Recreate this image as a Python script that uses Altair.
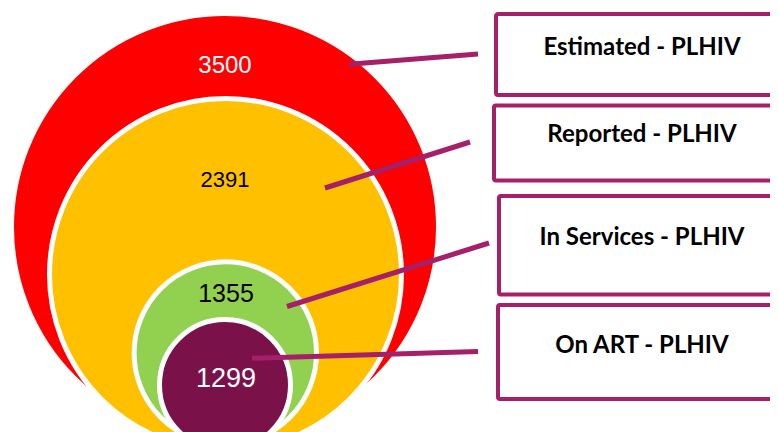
import altair as alt
import pandas as pd

# ---- data ----
stages = ["Estimated - PLHIV", "Reported - PLHIV", "In Services - PLHIV", "On ART - PLHIV"]
values = [3500, 2391, 1355, 1299]
fills = ["#FF0000", "#FFC000", "#92D050", "#7A1148"]
label_colors = ["#FFFFFF", "#000000", "#000000", "#FFFFFF"]

# ---- layout (screen pixel units) ----
circle_cx = [225, 225.5, 225.3, 225]
circle_cy = [227, 274.5, 353, 385]
circle_r = [213.5, 176, 91.2, 65.5]
label_x = [225, 225, 226, 226]
label_y = [66, 180, 294, 379]
label_size = [24, 22, 25, 27]
box_left = [496, 494, 499, 498]
box_top = [14, 105.5, 196, 305]
box_bottom = [95, 180.5, 294.5, 399]
box_text_x = [642, 642, 642, 642]
box_text_y = [48, 135, 238, 345.5]
lead_x1 = [349, 325, 287, 252]
lead_y1 = [64.3, 188, 306.5, 358.3]
lead_x2 = [478, 470, 489, 478]
lead_y2 = [54, 142, 243, 351.5]

ACCENT = "#A61F69"
W, H = 762, 424

df = pd.DataFrame({
    "stage": stages,
    "value": values,
    "fill": fills,
    "lcolor": label_colors,
    "cx": circle_cx,
    "cy": circle_cy,
    # Vega symbol size is the area of the bounding square: (2r)^2
    "area": [4 * r * r for r in circle_r],
    "lx": label_x,
    "ly": label_y,
    "lsize": label_size,
    "bx": box_left,
    "bx2": [800] * 4,
    "by": box_top,
    "by2": box_bottom,
    "tx": box_text_x,
    "ty": box_text_y,
    "x1": lead_x1,
    "y1": lead_y1,
    "x2": lead_x2,
    "y2": lead_y2,
    "ord": [0, 1, 2, 3],
})

xs = alt.Scale(domain=[8, 8 + W], nice=False, zero=False)
ys = alt.Scale(domain=[8, 8 + H], nice=False, zero=False, reverse=True)

base = alt.Chart(df)

circles = base.mark_circle(opacity=1, stroke="white", strokeWidth=5, clip=True).encode(
    x=alt.X("cx:Q", scale=xs, axis=None),
    y=alt.Y("cy:Q", scale=ys, axis=None),
    size=alt.Size("area:Q", scale=None, legend=None),
    color=alt.Color("fill:N", scale=None, legend=None),
    order=alt.Order("ord:Q"),
)

labels = base.mark_text(font="Liberation Sans", baseline="middle", align="center").encode(
    x=alt.X("lx:Q", scale=xs, axis=None),
    y=alt.Y("ly:Q", scale=ys, axis=None),
    text=alt.Text("value:Q", format="d"),
    color=alt.Color("lcolor:N", scale=None, legend=None),
    size=alt.Size("lsize:Q", scale=None, legend=None),
)

leaders = base.mark_rule(color=ACCENT, strokeWidth=5).encode(
    x=alt.X("x1:Q", scale=xs, axis=None),
    y=alt.Y("y1:Q", scale=ys, axis=None),
    x2="x2:Q",
    y2="y2:Q",
)

boxes = base.mark_rect(fill="white", stroke=ACCENT, strokeWidth=4, cornerRadius=2, clip=True).encode(
    x=alt.X("bx:Q", scale=xs, axis=None),
    x2="bx2:Q",
    y=alt.Y("by:Q", scale=ys, axis=None),
    y2="by2:Q",
)

box_text = base.mark_text(font="Lato", fontWeight="bold", fontSize=24, color="black",
                          baseline="middle", align="center").encode(
    x=alt.X("tx:Q", scale=xs, axis=None),
    y=alt.Y("ty:Q", scale=ys, axis=None),
    text="stage:N",
)

chart = alt.layer(circles, labels, leaders, boxes, box_text).properties(
    width=W, height=H, padding=0, autosize="none"
).configure_view(stroke=None)

chart.save("out.html", embed_options={"renderer": "svg", "actions": False})
